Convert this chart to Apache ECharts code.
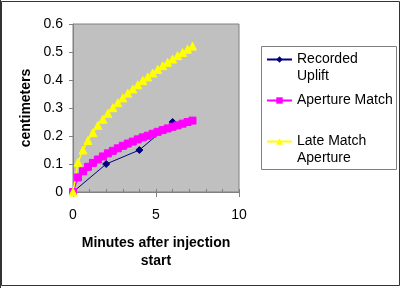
<!DOCTYPE html>
<html>
<head>
<meta charset="utf-8">
<script src="https://cdn.jsdelivr.net/npm/echarts@6/dist/echarts.min.js"></script>
<style>
  html, body { margin: 0; padding: 0; background: #fff; }
  #c { width: 401px; height: 288px; }
</style>
</head>
<body>
<div id="c"></div>
<script>
// ---- data ----
const recordedT = [0, 2, 4, 6];
const recordedUplift = [0, 0.10, 0.15, 0.25];

const modelT = [0, 0.3, 0.6, 0.9, 1.2, 1.5, 1.8, 2.1, 2.4, 2.7, 3.0, 3.3, 3.6,
                3.9, 4.2, 4.5, 4.8, 5.1, 5.4, 5.7, 6.0, 6.3, 6.6, 6.9, 7.2];
const apertureMatch = [0, 0.052, 0.074, 0.090, 0.104, 0.116, 0.127, 0.138, 0.147,
                       0.156, 0.165, 0.173, 0.180, 0.188, 0.195, 0.201, 0.208,
                       0.215, 0.221, 0.227, 0.233, 0.238, 0.244, 0.250, 0.255];
const lateMatchAperture = [0, 0.106, 0.150, 0.184, 0.212, 0.238, 0.260, 0.281, 0.301,
                           0.319, 0.336, 0.353, 0.368, 0.383, 0.398, 0.411, 0.425,
                           0.438, 0.451, 0.463, 0.475, 0.487, 0.498, 0.510, 0.521];

const seriesNames = ['Recorded Uplift', 'Aperture Match', 'Late Match Aperture'];
// leading blank line keeps the legend symbol level with the first text line
const legendLabels = ['\nRecorded\nUplift', 'Aperture Match', '\nLate Match\nAperture'];
const xTitle = 'Minutes after injection\nstart';
const yTitle = 'centimeters';

const pairs = (xs, ys) => xs.map((x, i) => [x, ys[i]]);
const FONT = '"Liberation Sans", Arial, sans-serif';

const chart = echarts.init(document.getElementById('c'), null, { renderer: 'canvas' });
chart.setOption({
  animation: false,
  backgroundColor: '#ffffff',
  textStyle: { fontFamily: FONT },
  graphic: [
    { type: 'rect', z: -10, silent: true,
      shape: { x: 1.5, y: 1.5, width: 398, height: 284 },
      style: { fill: 'none', stroke: '#333', lineWidth: 1 } },
    { type: 'line', z: -10, silent: true,
      shape: { x1: 0.5, y1: 0, x2: 0.5, y2: 288 },
      style: { stroke: '#333', lineWidth: 1 } },
    { type: 'rect', z: -5, silent: true,
      shape: { x: 261.5, y: 46.5, width: 135, height: 123 },
      style: { fill: '#fff', stroke: '#808080', lineWidth: 1 } }
  ],
  grid: {
    left: 73, top: 24, right: 162, bottom: 96,
    show: true, backgroundColor: '#c0c0c0', borderColor: '#808080', borderWidth: 1,
    containLabel: false
  },
  legend: {
    orient: 'vertical',
    left: 266, top: 34, padding: 0,
    itemWidth: 25, itemHeight: 8, itemGap: 7,
    selectedMode: false,
    textStyle: { fontSize: 14, lineHeight: 17, color: '#000', fontFamily: FONT },
    formatter: name => legendLabels[seriesNames.indexOf(name)],
    data: seriesNames
  },
  xAxis: [{
    type: 'value', min: 0, max: 10, interval: 5,
    name: xTitle, nameLocation: 'middle', nameGap: 42,
    nameTextStyle: { fontSize: 14, fontWeight: 'bold', lineHeight: 18, color: '#000', fontFamily: FONT },
    axisLine: { show: true, lineStyle: { color: '#808080', width: 1 } },
    axisTick: { show: true, length: 5, inside: false, lineStyle: { color: '#808080' } },
    axisLabel: { fontSize: 14, color: '#000', margin: 16, fontFamily: FONT },
    splitLine: { show: false }
  }, {
    type: 'value', min: 0, max: 10, interval: 1, position: 'bottom',
    axisLine: { show: false },
    axisTick: { show: true, length: 3, inside: true, lineStyle: { color: '#808080' } },
    axisLabel: { show: false },
    splitLine: { show: false }
  }],
  yAxis: {
    type: 'value', min: 0, max: 0.6, interval: 0.1,
    name: yTitle, nameLocation: 'middle', nameGap: 40,
    nameTextStyle: { fontSize: 14, fontWeight: 'bold', color: '#000', fontFamily: FONT },
    axisLine: { show: true, lineStyle: { color: '#808080', width: 1 } },
    axisTick: { show: true, length: 4, lineStyle: { color: '#808080' } },
    axisLabel: { fontSize: 14, color: '#000', margin: 10, fontFamily: FONT },
    splitLine: { show: false }
  },
  series: [
    {
      name: seriesNames[0], type: 'line', xAxisIndex: 0,
      data: pairs(recordedT, recordedUplift),
      symbol: 'diamond', symbolSize: 7,
      lineStyle: { color: '#000080', width: 1 },
      itemStyle: { color: '#000080', borderColor: '#000080' }
    },
    {
      name: seriesNames[1], type: 'line', xAxisIndex: 0,
      data: pairs(modelT, apertureMatch),
      symbol: 'rect', symbolSize: 7,
      lineStyle: { color: '#ff00ff', width: 1.5 },
      itemStyle: { color: '#ff00ff', borderColor: '#ff00ff' }
    },
    {
      name: seriesNames[2], type: 'line', xAxisIndex: 0,
      data: pairs(modelT, lateMatchAperture),
      symbol: 'triangle', symbolSize: 8,
      lineStyle: { color: '#ffff00', width: 1.5 },
      itemStyle: { color: '#ffff00', borderColor: '#ffff00' }
    }
  ]
});
</script>
</body>
</html>
